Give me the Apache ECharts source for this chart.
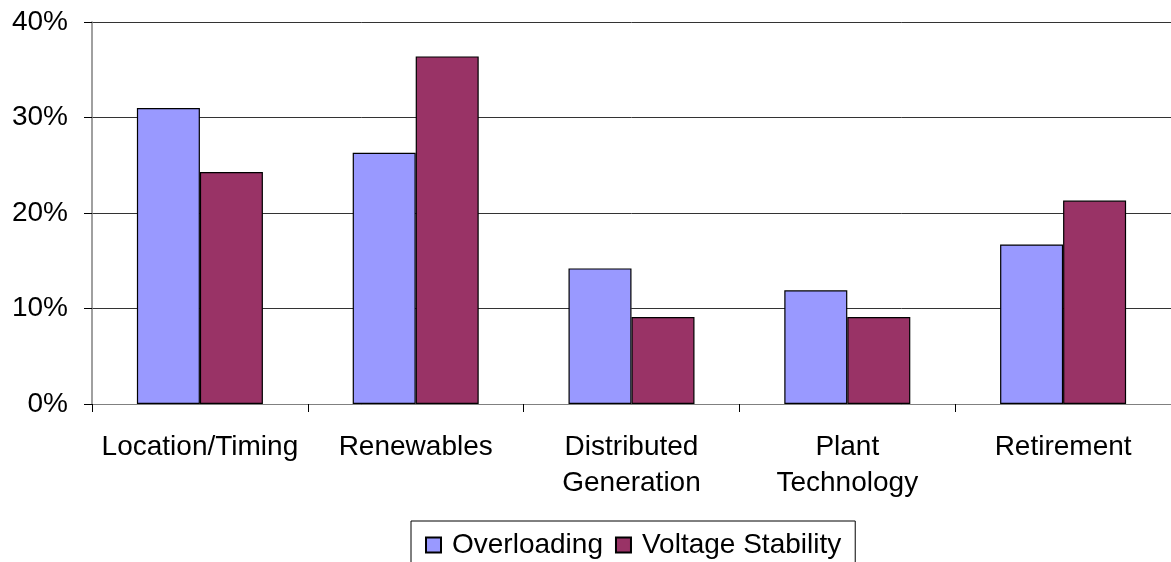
<!DOCTYPE html>
<html>
<head>
<meta charset="utf-8">
<script src="https://cdn.jsdelivr.net/npm/echarts@6/dist/echarts.min.js"></script>
<style>
  html, body { margin: 0; padding: 0; background: #fff; }
  #chart { width: 1171px; height: 562px; }
</style>
</head>
<body>
<div id="chart"></div>
<script>
// Categories and per-series shares (percent)
const categories = ['Location/Timing', 'Renewables', 'Distributed\nGeneration', 'Plant\nTechnology', 'Retirement'];
const overloading = [31.0, 26.3, 14.2, 11.9, 16.7];
const voltageStability = [24.3, 36.4, 9.1, 9.1, 21.3];
const seriesNames = ['Overloading', 'Voltage Stability'];
const yTicks = { min: 0, max: 40, interval: 10 };

const FONT = 'Liberation Sans, Arial, sans-serif';
const chart = echarts.init(document.getElementById('chart'), null, { renderer: 'canvas' });

chart.setOption({
  animation: false,
  backgroundColor: '#fff',
  grid: { left: 92, right: 0, top: 22, bottom: 158 },
  legend: {
    data: seriesNames,
    left: 411,
    top: 521,
    padding: [10, 14, 20, 14],
    itemWidth: 15,
    itemHeight: 15,
    itemGap: 12,
    borderColor: '#000',
    borderWidth: 1,
    icon: 'rect',
    textStyle: { fontFamily: FONT, fontSize: 28, color: '#000', padding: [0, 0, 0, 6] }
  },
  xAxis: {
    type: 'category',
    data: categories,
    axisLine: { lineStyle: { color: '#808080', width: 1 } },
    axisTick: { show: true, length: 8, lineStyle: { color: '#000' } },
    axisLabel: {
      fontFamily: FONT, fontSize: 28, color: '#000',
      margin: 25, lineHeight: 36, interval: 0
    }
  },
  yAxis: {
    type: 'value',
    min: yTicks.min, max: yTicks.max, interval: yTicks.interval,
    axisLine: { show: true, lineStyle: { color: '#808080', width: 1.5 } },
    axisTick: { show: true, length: 8, lineStyle: { color: '#000' } },
    splitLine: { lineStyle: { color: '#333', width: 1 } },
    axisLabel: {
      fontFamily: FONT, fontSize: 28, color: '#000', margin: 24,
      formatter: v => v + '%'
    }
  },
  series: [
    {
      name: seriesNames[0],
      type: 'bar',
      data: overloading,
      barWidth: 63,
      barGap: '0%',
      itemStyle: { color: '#9999FF', borderColor: '#000', borderWidth: 1.2 }
    },
    {
      name: seriesNames[1],
      type: 'bar',
      data: voltageStability,
      barWidth: 63,
      barGap: '0%',
      itemStyle: { color: '#993366', borderColor: '#000', borderWidth: 1.2 }
    }
  ]
});
</script>
</body>
</html>
